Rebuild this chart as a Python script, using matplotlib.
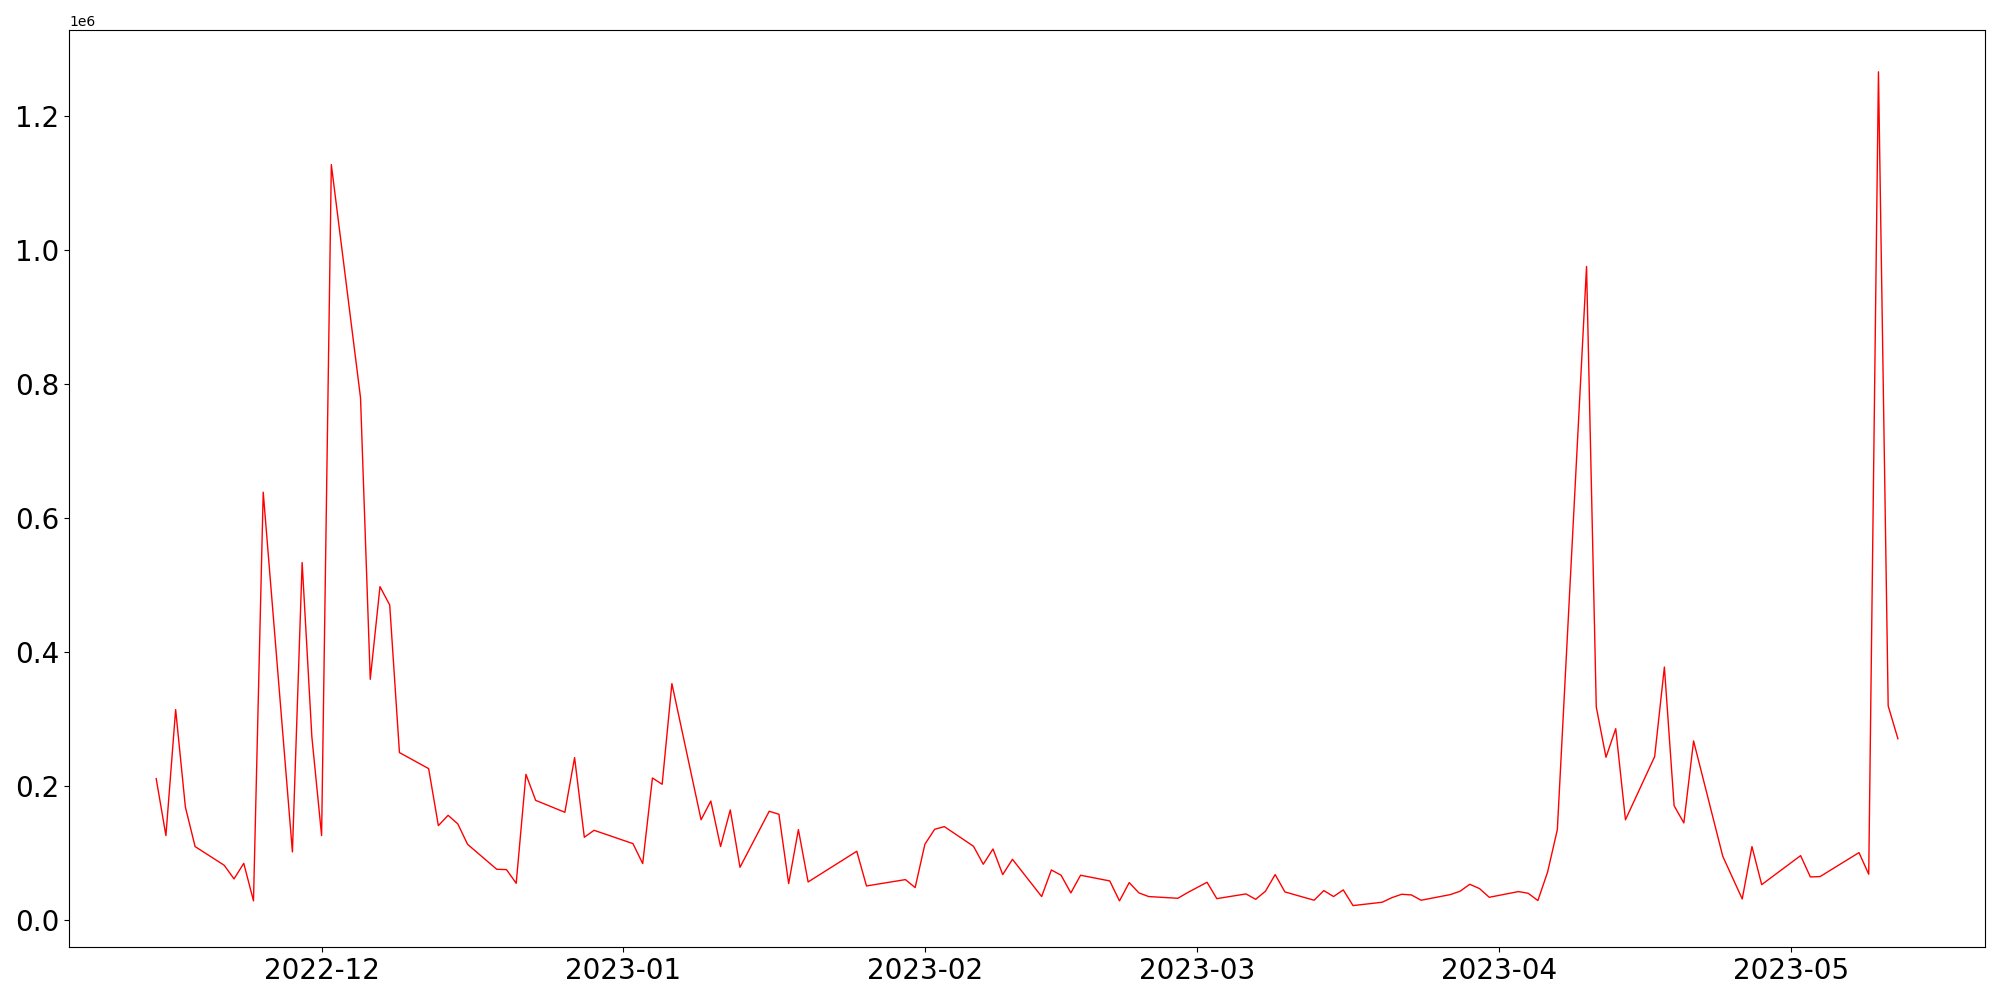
import matplotlib
matplotlib.use("Agg")
import matplotlib.pyplot as plt
import pandas as pd

# daily values (trading days only)
dates = [
    "2022-11-14", "2022-11-15", "2022-11-16", "2022-11-17", "2022-11-18",
    "2022-11-21", "2022-11-22", "2022-11-23", "2022-11-24", "2022-11-25",
    "2022-11-28", "2022-11-29", "2022-11-30", "2022-12-01", "2022-12-02",
    "2022-12-05", "2022-12-06", "2022-12-07", "2022-12-08", "2022-12-09",
    "2022-12-12", "2022-12-13", "2022-12-14", "2022-12-15", "2022-12-16",
    "2022-12-19", "2022-12-20", "2022-12-21", "2022-12-22", "2022-12-23",
    "2022-12-26", "2022-12-27", "2022-12-28", "2022-12-29",
    "2023-01-02", "2023-01-03", "2023-01-04", "2023-01-05", "2023-01-06",
    "2023-01-09", "2023-01-10", "2023-01-11", "2023-01-12", "2023-01-13",
    "2023-01-16", "2023-01-17", "2023-01-18", "2023-01-19", "2023-01-20",
    "2023-01-25", "2023-01-26", "2023-01-30", "2023-01-31",
    "2023-02-01", "2023-02-02", "2023-02-03",
    "2023-02-06", "2023-02-07", "2023-02-08", "2023-02-09", "2023-02-10",
    "2023-02-13", "2023-02-14", "2023-02-15", "2023-02-16", "2023-02-17",
    "2023-02-20", "2023-02-21", "2023-02-22", "2023-02-23", "2023-02-24",
    "2023-02-27", "2023-02-28", "2023-03-02", "2023-03-03",
    "2023-03-06", "2023-03-07", "2023-03-08", "2023-03-09", "2023-03-10",
    "2023-03-13", "2023-03-14", "2023-03-15", "2023-03-16", "2023-03-17",
    "2023-03-20", "2023-03-21", "2023-03-22", "2023-03-23", "2023-03-24",
    "2023-03-27", "2023-03-28", "2023-03-29", "2023-03-30", "2023-03-31",
    "2023-04-03", "2023-04-04", "2023-04-05", "2023-04-06", "2023-04-07",
    "2023-04-10", "2023-04-11", "2023-04-12", "2023-04-13", "2023-04-14",
    "2023-04-17", "2023-04-18", "2023-04-19", "2023-04-20", "2023-04-21",
    "2023-04-24", "2023-04-26", "2023-04-27", "2023-04-28",
    "2023-05-02", "2023-05-03", "2023-05-04",
    "2023-05-08", "2023-05-09", "2023-05-10", "2023-05-11", "2023-05-12",
]

volume = [
    211500, 126400, 314500, 169000, 110000,
    82000, 61700, 85000, 29000, 639000,
    102000, 534000, 273600, 126400, 1128000,
    780000, 359700, 498000, 470600, 250300,
    226400, 141300, 156700, 143800, 113400,
    76100, 75600, 55200, 217900, 179000,
    161200, 242800, 123900, 134300,
    114400, 84600, 212400, 203000, 353300,
    150000, 178000, 110000, 164700, 79100,
    162700, 158200, 54700, 135300, 57200,
    103000, 51200, 60700, 48800,
    113400, 135800, 139800,
    110400, 83600, 106400, 68200, 91000,
    35400, 75100, 67200, 40800, 67200,
    58700, 28900, 56200, 40800, 35400,
    32800, 41300, 56700, 32300,
    39300, 31300, 43300, 68200, 42300,
    29900, 44300, 35400, 45300, 21900,
    26900, 33800, 38800, 37800, 29900,
    38300, 43300, 53700, 47300, 34300,
    42800, 40300, 29400, 72100, 135300,
    976000, 318400, 243300, 286000, 150000,
    244300, 378000, 171000, 145300, 267700,
    95500, 31800, 110000, 53200,
    96500, 64700, 65200,
    101000, 68700, 1266500, 320000, 271000,
]

x = pd.to_datetime(dates)

fig, ax = plt.subplots(figsize=(20, 10), dpi=100)
ax.plot(x, volume, color="red", linewidth=1)
ax.tick_params(axis="both", labelsize=20)
plt.tight_layout()
plt.savefig("out.png")
